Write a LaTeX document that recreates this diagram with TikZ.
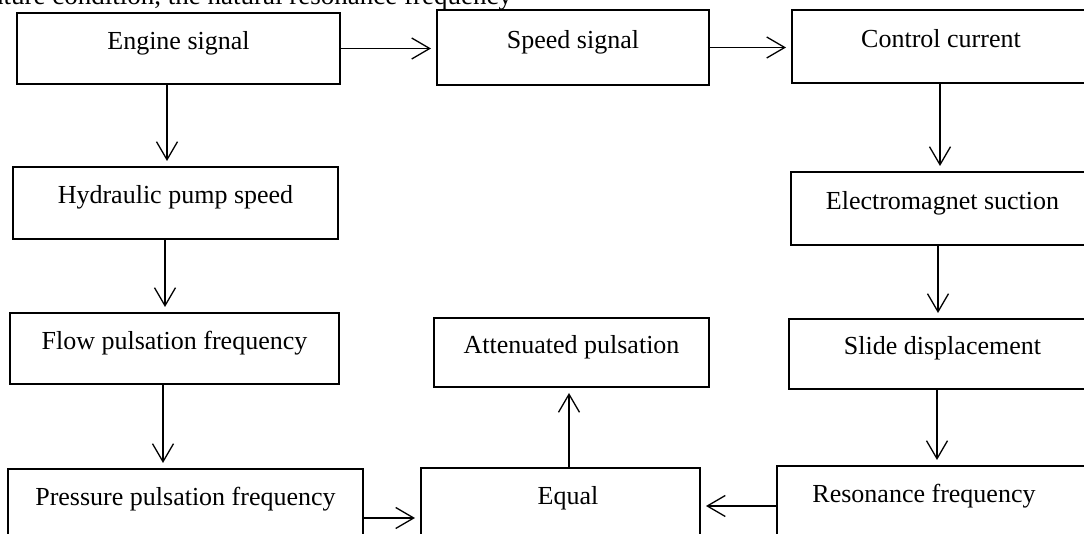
\documentclass[tikz,border=0pt]{standalone}
\usepackage{fontspec}
\setmainfont{Liberation Serif}
\usetikzlibrary{arrows.meta}
\tikzset{
  box/.style={draw, line width=1pt, inner sep=0pt, text height=9.5pt, text depth=8.5pt,
    font=\fontsize{13}{15}\selectfont},
  arr/.style={line width=0.65pt, -{Straight Barb[length=9pt,width=10.5pt]}, shorten >=2.5pt},
  txt/.style={font=\fontsize{13}{15}\selectfont},
  lbl/.style={txt, inner sep=0pt, text height=9.5pt, text depth=8.5pt}
}
\begin{document}
\begin{tikzpicture}[x=0.5pt,y=-0.5pt]
\clip (0,0) rectangle (1084,534);
\fill[white] (0,0) rectangle (1084,534);
\node[txt, anchor=base east, font=\fontsize{13.5}{15}\selectfont] (cap) at (519,5) {ature condition, the natural resonance frequency};
% boxes
\node[box, minimum width=161.5pt, minimum height=35.5pt] (engine) at (178.5,48.5) {Engine signal};
\node[box, minimum width=136pt, minimum height=37.5pt] (speed) at (573,47.5) {Speed signal};
\node[box, minimum width=149pt, minimum height=36.5pt] (ctrl) at (941,46.5) {Control current};
\node[box, minimum width=151.5pt, minimum height=36.5pt] (em) at (942.5,208.5) {Electromagnet suction};
\node[box, minimum width=153.5pt, minimum height=35pt] (slide) at (942.5,354) {Slide displacement};
\node[box, minimum width=166.5pt, minimum height=36pt,
  label={[lbl, name=resT, xshift=-9.75pt]center:Resonance frequency}] (res) at (943.5,502) {};
\node[box, minimum width=162.5pt, minimum height=36pt] (hyd) at (175.5,203) {Hydraulic pump speed};
\node[box, minimum width=164.5pt, minimum height=35.5pt] (flow) at (174.5,348.5) {Flow pulsation frequency};
\node[box, minimum width=177.5pt, minimum height=36pt] (press) at (185.5,505) {Pressure pulsation frequency};
\node[box, minimum width=137.5pt, minimum height=34.5pt] (att) at (571.5,352.5) {Attenuated pulsation};
\node[box, minimum width=139.5pt, minimum height=36pt,
  label={[lbl, name=eqT, xshift=3.75pt]center:Equal}] (equal) at (560.5,504) {};
% connectors
\draw[arr] (engine.east) coordinate (a1) -- (a1 -| speed.west);
\draw[arr] (speed.east) coordinate (a2) -- (a2 -| ctrl.west);
\draw[arr] ([xshift=-5.75pt]engine.south) coordinate (a3) -- (a3 |- hyd.north);
\draw[arr] ([xshift=-5.25pt]hyd.south) coordinate (a4) -- (a4 |- flow.north);
\draw[arr] ([xshift=-5.75pt]flow.south) coordinate (a5) -- (a5 |- press.north);
\draw[arr] ([xshift=-0.5pt]ctrl.south) coordinate (a6) -- (a6 |- em.north);
\draw[arr] ([xshift=-2.25pt]em.south) coordinate (a7) -- (a7 |- slide.north);
\draw[arr] ([xshift=-2.75pt]slide.south) coordinate (a8) -- (a8 |- res.north);
\draw[arr] ([yshift=-6.5pt]press.east) coordinate (a9) -- (a9 -| equal.west);
\draw[arr] ([yshift=-2pt]res.west) coordinate (a10) -- (a10 -| equal.east);
\draw[arr] ([xshift=4.25pt]equal.north) coordinate (a11) -- (a11 |- att.south);
\end{tikzpicture}
\end{document}
